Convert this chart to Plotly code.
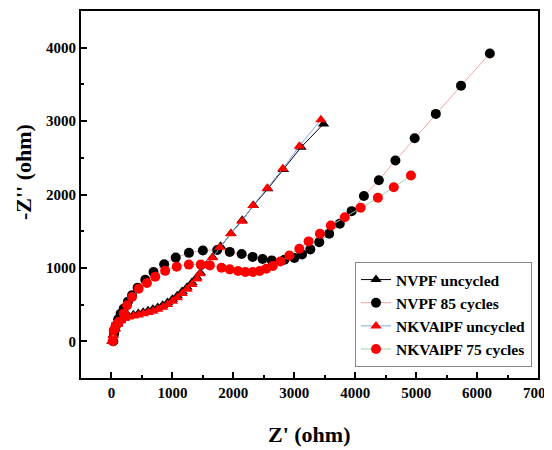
import plotly.graph_objects as go

# NVPF uncycled (black triangles)
nvpf_unc_x = [10, 30, 60, 100, 150, 210, 280, 360, 440, 520, 600, 680, 760, 840, 920, 1000,
              1080, 1160, 1240, 1320, 1400, 1460, 1560, 1660, 1790, 1960, 2145, 2330, 2566, 2822, 3111, 3480]
nvpf_unc_y = [0, 90, 175, 245, 295, 325, 345, 362, 380, 397, 415, 435, 460, 492, 528, 572,
              622, 677, 737, 802, 872, 935, 1040, 1145, 1295, 1470, 1650, 1850, 2078, 2340, 2643, 2962]

# NVPF 85 cycles (black circles)
nvpf_85_x = [30, 45, 70, 110, 150, 201, 270, 337, 430, 555, 690, 865, 1055, 1272, 1500, 1735,
             1941, 2137, 2316, 2480, 2631, 2838, 3002, 3127, 3263, 3410, 3573, 3747, 3942,
             4143, 4388, 4660, 4976, 5323, 5737, 6210]
nvpf_85_y = [0, 110, 210, 300, 375, 445, 540, 626, 731, 839, 943, 1050, 1140, 1205, 1238, 1245,
             1218, 1190, 1150, 1122, 1102, 1111, 1134, 1184, 1252, 1351, 1465, 1601, 1773,
             1980, 2195, 2463, 2766, 3098, 3483, 3922]

# NKVAlPF uncycled (red triangles)
nkv_unc_x = [10, 30, 60, 100, 150, 210, 280, 360, 440, 520, 600, 680, 760, 840, 920, 1000,
             1080, 1160, 1240, 1320, 1400, 1452, 1553, 1653, 1778, 1958, 2142, 2321, 2556, 2811, 3083, 3437]
nkv_unc_y = [0, 80, 160, 230, 280, 310, 330, 345, 360, 375, 392, 410, 435, 465, 500, 545,
             595, 650, 710, 775, 850, 921, 1030, 1138, 1283, 1465, 1637, 1850, 2086, 2350, 2657, 3020]

# NKVAlPF 75 cycles (red circles)
nkv_75_x = [20, 38, 70, 119, 201, 256, 337, 446, 582, 718, 881, 1071, 1270, 1465, 1615, 1806,
            1941, 2077, 2197, 2321, 2431, 2540, 2648, 2773, 2920, 3083, 3235, 3421, 3600, 3829,
            4090, 4372, 4633, 4915]
nkv_75_y = [0, 150, 210, 263, 377, 490, 603, 717, 795, 880, 960, 1015, 1045, 1045, 1034, 1003,
            980, 957, 943, 943, 957, 989, 1025, 1088, 1170, 1261, 1361, 1465, 1578, 1691,
            1819, 1955, 2099, 2259]

x_ticks = [0, 1000, 2000, 3000, 4000, 5000, 6000, 7000]
y_ticks = [0, 1000, 2000, 3000, 4000]

FONT = "Liberation Serif"
OFF = 8                      # page body margin of the html page
W, H = 552 - OFF, 450 - OFF
# plot area in window pixels: left 81, right 538, top 11, bottom 378
ML, MT = 81 - OFF, 11 - OFF
MR = W - (538 - OFF)
MB = H - (378 - OFF)
PW, PH = W - ML - MR, H - MT - MB


def px_to_paper(wx, wy):
    fx, fy = wx - OFF, wy - OFF
    return (fx - ML) / PW, ((H - MB) - fy) / PH


fig = go.Figure()
fig.add_trace(go.Scatter(x=nvpf_unc_x, y=nvpf_unc_y, mode="lines+markers", name="NVPF uncycled",
                         line=dict(color="#000000", width=1),
                         marker=dict(symbol="triangle-up", size=10, color="#000000")))
fig.add_trace(go.Scatter(x=nvpf_85_x, y=nvpf_85_y, mode="lines+markers", name="NVPF 85 cycles",
                         line=dict(color="#f4a6a6", width=1),
                         marker=dict(symbol="circle", size=10, color="#000000")))
fig.add_trace(go.Scatter(x=nkv_unc_x, y=nkv_unc_y, mode="lines+markers", name="NKVAlPF uncycled",
                         line=dict(color="#7aa8e6", width=1),
                         marker=dict(symbol="triangle-up", size=10, color="#ff0000")))
fig.add_trace(go.Scatter(x=nkv_75_x, y=nkv_75_y, mode="lines+markers", name="NKVAlPF 75 cycles",
                         line=dict(color="#9fd4a8", width=1),
                         marker=dict(symbol="circle", size=10, color="#ff0000")))

axis_common = dict(showline=True, linecolor="black", linewidth=2, mirror=True, automargin=False,
                   showgrid=False, zeroline=False, ticks="inside", ticklen=6, tickwidth=1.5,
                   tickcolor="black", ticklabeloverflow="allow",
                   tickfont=dict(family=FONT, size=15, color="black", weight="bold"),
                   minor=dict(ticks="inside", ticklen=3, tickwidth=1.5, tickcolor="black", dtick=500))

fig.update_xaxes(range=[-500, 7000], tickvals=x_ticks, **axis_common)
fig.update_yaxes(range=[-500, 4500], tickvals=y_ticks, **axis_common)

tx, ty = px_to_paper(309, 434)
fig.add_annotation(text="Z' (ohm)", xref="paper", yref="paper", x=tx, y=ty,
                   xanchor="center", yanchor="middle", showarrow=False,
                   font=dict(family=FONT, size=22, color="black", weight="bold"))
yx, yy = px_to_paper(23, 172)
fig.add_annotation(text="-Z'' (ohm)", xref="paper", yref="paper", x=yx, y=yy,
                   xanchor="center", yanchor="middle", showarrow=False, textangle=-90,
                   font=dict(family=FONT, size=22, color="black", weight="bold"))

lx, ly = px_to_paper(532, 367)
fig.update_layout(
    width=W, height=H,
    margin=dict(l=ML, r=MR, t=MT, b=MB),
    paper_bgcolor="white", plot_bgcolor="white",
    showlegend=True,
    legend=dict(x=lx, y=ly, xanchor="right", yanchor="bottom",
                bgcolor="white", bordercolor="#888888", borderwidth=1,
                font=dict(family=FONT, size=15.5, color="black", weight="bold"),
                tracegroupgap=0, itemwidth=30),
)

fig.write_html("out.html")
